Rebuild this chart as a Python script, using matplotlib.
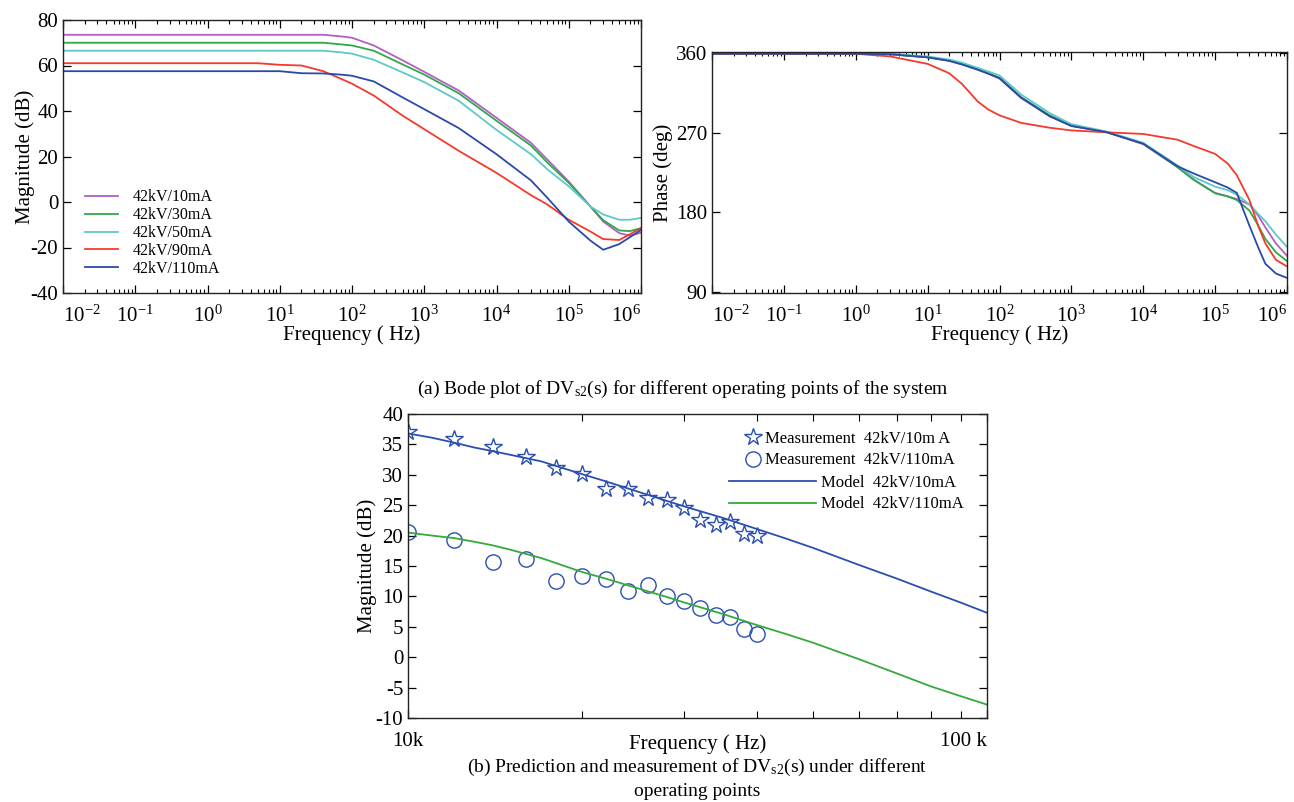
import numpy as np
import matplotlib
matplotlib.use("Agg")
import matplotlib.pyplot as plt
from matplotlib.ticker import (LogLocator, NullFormatter, FixedLocator, FixedFormatter,
                               LogFormatterSciNotation)

plt.rcParams['font.family'] = ['Liberation Serif', 'DejaVu Serif']
plt.rcParams['mathtext.fontset'] = 'custom'
plt.rcParams['mathtext.rm'] = 'Liberation Serif'
plt.rcParams['mathtext.it'] = 'Liberation Serif:italic'
plt.rcParams['mathtext.bf'] = 'Liberation Serif:bold'
plt.rcParams['axes.unicode_minus'] = False

# ---------------- data ----------------
labels = ['42kV/10mA', '42kV/30mA', '42kV/50mA', '42kV/90mA', '42kV/110mA']
colors = ['#b25ec6', '#2fa84a', '#5cc9c6', '#f43a2a', '#2a4aa8']
decades = [1e-2, 1e-1, 1e0, 1e1, 1e2, 1e3, 1e4, 1e5, 1e6]

mag_freq = [0.01, 5, 10, 20, 40, 70, 100, 200, 500, 1e3, 3e3, 1e4, 3e4, 5e4,
            1e5, 2e5, 3e5, 5e5, 7e5, 1e6]
mag_10mA = [73.5, 73.5, 73.5, 73.5, 73.5, 72.8, 72.2, 68.8, 62.3, 57.2, 49.0, 37.0,
            26.0, 18.8, 9.0, -2.0, -8.6, -13.7, -14.8, -13.5]
mag_30mA = [70.0, 70.0, 70.0, 70.0, 70.0, 69.3, 68.8, 66.5, 60.5, 56.0, 47.8, 35.7,
            24.8, 17.5, 8.4, -2.0, -8.0, -12.5, -12.8, -11.5]
mag_50mA = [66.5, 66.5, 66.5, 66.5, 66.5, 65.8, 65.2, 62.5, 57.0, 52.7, 44.5, 31.7,
            21.0, 14.5, 6.9, -2.0, -5.5, -7.8, -7.8, -7.0]
mag_90mA = [61.0, 61.0, 60.3, 60.0, 57.5, 54.2, 52.0, 46.8, 38.0, 32.0, 22.5, 12.8,
            3.0, -1.0, -7.8, -13.0, -16.3, -16.7, -14.2, -11.5]
mag_110mA = [57.5, 57.5, 57.5, 56.6, 56.5, 56.0, 55.5, 53.0, 46.0, 40.8, 32.5, 21.0,
             9.5, 2.0, -8.6, -17.0, -21.0, -18.5, -15.5, -12.3]

ph_freq = [0.01, 1, 3, 10, 20, 30, 50, 70, 100, 200, 500, 1e3, 3e3, 1e4, 3e4, 5e4,
           1e5, 1.5e5, 2e5, 3e5, 4e5, 5e5, 7e5, 1e6]
ph_10mA = [359, 359, 358.5, 355, 351, 347, 341, 336.5, 331, 309, 288.5, 277.5, 270.8,
           257, 231, 217, 202, 198, 195, 189, 176, 163, 145, 131]
ph_30mA = [359, 359, 358.5, 355, 351.5, 347.5, 341.5, 337, 332, 310, 289.5, 278, 271,
           257.5, 231, 217, 201.5, 198, 194, 182, 165, 150, 135, 125]
ph_50mA = [359.5, 359.5, 359, 356, 352.5, 349, 343, 339, 334.5, 313, 292, 279.5, 271.5,
           258.5, 233, 220, 209, 205, 200, 189, 178, 170, 155, 141]
ph_90mA = [359, 359, 356, 347.6, 337, 325, 305, 296, 289.5, 281, 275.5, 272.5, 270.4,
           268.5, 262, 255, 246, 235, 222, 194, 164, 145, 126.5, 119]
ph_110mA = [359, 359, 358.5, 355, 351, 347, 341, 336.5, 331.5, 309.5, 288.5, 277.5,
            270.8, 257.5, 232, 224, 214, 208, 202, 165, 140, 122, 111, 106]

meas_freq_k = [10, 12, 14, 16, 18, 20, 22, 24, 26, 28, 30, 32, 34, 36, 38, 40]
meas_10mA = [37.1, 35.9, 34.6, 32.9, 31.1, 30.2, 27.6, 27.6, 26.2, 25.8, 24.5, 22.5,
             21.8, 22.2, 20.2, 19.9]
meas_110mA = [20.6, 19.2, 15.7, 16.2, 12.6, 13.3, 12.9, 10.9, 11.9, 10.0, 9.3, 8.1,
              6.9, 6.6, 4.7, 3.8]

model_freq_k = [10, 11, 12, 13, 14, 15, 17, 20, 22, 25, 28, 30, 35, 40, 45, 50,
                60, 70, 80, 90, 100]
model_10mA = [36.8, 36.1, 35.3, 34.5, 33.9, 33.3, 32.2, 30.1, 28.9, 27.2, 25.7, 24.8,
              22.9, 21.1, 19.5, 18.0, 15.2, 12.9, 10.8, 9.0, 7.3]
model_110mA = [20.5, 20.0, 19.6, 19.0, 18.4, 17.7, 16.3, 14.0, 12.9, 11.3, 9.9, 9.0,
               7.1, 5.3, 3.8, 2.4, -0.3, -2.7, -4.8, -6.4, -7.8]

mag_series = [mag_10mA, mag_30mA, mag_50mA, mag_90mA, mag_110mA]
ph_series = [ph_10mA, ph_30mA, ph_50mA, ph_90mA, ph_110mA]

# ---------------- figure ----------------
fig = plt.figure(figsize=(12.94, 8.02), dpi=100)
W, H = 1294, 802


def ax_at(x0, y0, x1, y1):
    return fig.add_axes([x0 / W, 1 - y1 / H, (x1 - x0) / W, (y1 - y0) / H])


def style_log(ax):
    ax.set_xscale('log')
    ax.xaxis.set_major_locator(FixedLocator(decades))
    ax.xaxis.set_major_formatter(LogFormatterSciNotation(base=10))
    ax.xaxis.set_minor_locator(LogLocator(base=10, subs=np.arange(2, 10), numticks=100))
    ax.xaxis.set_minor_formatter(NullFormatter())
    ax.tick_params(which='both', direction='in', top=True, right=True, labelsize=15)
    ax.tick_params(which='major', length=6, width=0.9)
    ax.tick_params(axis='x', which='major', pad=9)
    ax.tick_params(which='minor', length=3, width=0.8)
    for s in ax.spines.values():
        s.set_linewidth(1.0)
        s.set_color('#222222')


# (a) magnitude
ax1 = ax_at(63, 20, 641, 293)
for vals, c, lab in zip(mag_series, colors, labels):
    ax1.plot(mag_freq, vals, color=c, lw=1.3, label=lab)
style_log(ax1)
ax1.set_xlim(1e-2, 1e6)
ax1.set_ylim(-40, 80)
ax1.set_yticks([-40, -20, 0, 20, 40, 60, 80])
ax1.set_xlabel('Frequency ( Hz)', fontsize=15, labelpad=-1)
ax1.set_ylabel('Magnitude (dB)', fontsize=15, labelpad=-3)
ax1.legend(loc='lower left', bbox_to_anchor=(0.013, 0.006), frameon=False, fontsize=11.5,
           handlelength=2.1, labelspacing=0.12, handletextpad=0.9)

# (a) phase
ax2 = ax_at(712, 52, 1287, 293)
for vals, c in zip(ph_series, colors):
    ax2.plot(ph_freq, vals, color=c, lw=1.3)
style_log(ax2)
ax2.set_xlim(1e-2, 1e6)
ax2.set_ylim(89, 361)
ax2.set_yticks([90, 180, 270, 360])
ax2.set_xlabel('Frequency ( Hz)', fontsize=15, labelpad=-1)
ax2.set_ylabel('Phase (deg)', fontsize=15, labelpad=2)

fig.text(683 / W, 1 - 389 / H,
         r'(a) Bode plot of DV$_{\mathrm{s2}}$(s) for different operating points of the system',
         ha='center', va='center', fontsize=14)

# (b)
ax3 = ax_at(408, 414, 987, 718)
blue = '#2a4fb0'
green = '#33aa3a'
meas_freq = [v * 1000 for v in meas_freq_k]
model_freq = [v * 1000 for v in model_freq_k]
l1, = ax3.plot(meas_freq, meas_10mA, linestyle='none', marker='*', markersize=13,
               markerfacecolor='none', markeredgecolor=blue, markeredgewidth=1.0,
               label='Measurement  42kV/10m A')
l2, = ax3.plot(meas_freq, meas_110mA, linestyle='none', marker='o', markersize=11,
               markerfacecolor='none', markeredgecolor=blue, markeredgewidth=1.0,
               label='Measurement  42kV/110mA')
l3, = ax3.plot(model_freq, model_10mA, color=blue, lw=1.3, label='Model  42kV/10mA')
l4, = ax3.plot(model_freq, model_110mA, color=green, lw=1.3, label='Model  42kV/110mA')
ax3.set_xscale('log')
ax3.set_xlim(1e4, 1e5)
ax3.set_ylim(-10, 40)
ax3.set_yticks(list(range(-10, 41, 5)))
ax3.xaxis.set_major_locator(FixedLocator([1e4, 1e5]))
ax3.xaxis.set_major_formatter(FixedFormatter(['10k', '100 k']))
ax3.xaxis.set_minor_locator(LogLocator(base=10, subs=np.arange(2, 10), numticks=100))
ax3.xaxis.set_minor_formatter(NullFormatter())
ax3.tick_params(which='both', direction='in', top=True, right=True, labelsize=15)
ax3.tick_params(which='major', length=6, width=0.9)
ax3.tick_params(axis='x', which='major', pad=10)
ax3.tick_params(which='minor', length=5, width=0.8)
for s in ax3.spines.values():
    s.set_linewidth(1.0)
    s.set_color('#222222')
ax3.set_xlabel('Frequency ( Hz)', fontsize=15, labelpad=-12)
ax3.set_ylabel('Magnitude (dB)', fontsize=15, labelpad=-1)

leg1 = ax3.legend(handles=[l1, l2], loc='upper right', bbox_to_anchor=(0.97, 0.995),
                  frameon=False, fontsize=12, handlelength=1.0, handletextpad=0.2,
                  labelspacing=0.35)
ax3.add_artist(leg1)
ax3.legend(handles=[l3, l4], loc='upper right', bbox_to_anchor=(0.985, 0.85),
           frameon=False, fontsize=12, handlelength=5.2, handletextpad=0.3,
           labelspacing=0.35)

fig.text(697 / W, 1 - 767 / H,
         r'(b) Prediction and measurement of DV$_{\mathrm{s2}}$(s) under different',
         ha='center', va='center', fontsize=14)
fig.text(697 / W, 1 - 792 / H, 'operating points', ha='center', va='center', fontsize=14)

# align the end tick labels like the reference
fig.canvas.draw()
for ax in (ax1, ax2):
    for tick in ax.xaxis.get_major_ticks():
        loc = tick.get_loc()
        if np.isclose(loc, 1e-2):
            tick.label1.set_horizontalalignment('left')
        elif np.isclose(loc, 1e6):
            tick.label1.set_horizontalalignment('right')
for tick in ax3.xaxis.get_major_ticks():
    if np.isclose(tick.get_loc(), 1e5):
        tick.label1.set_horizontalalignment('right')

fig.savefig('out.png', dpi=100)
